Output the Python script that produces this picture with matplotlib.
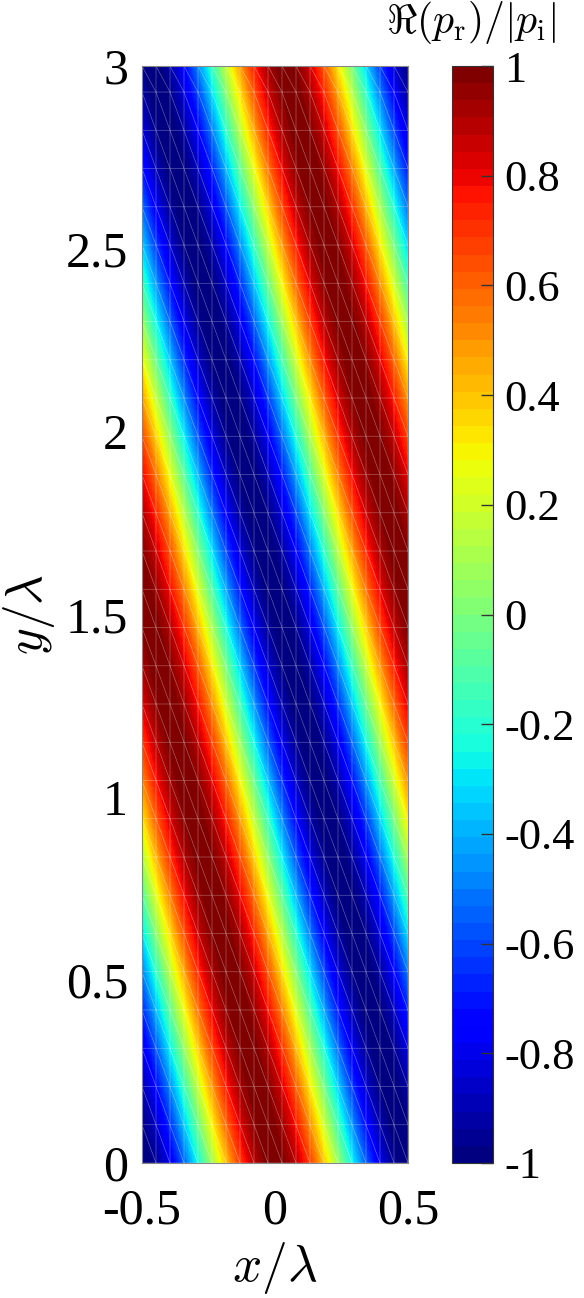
import numpy as np
import matplotlib
matplotlib.use("Agg")
import matplotlib.pyplot as plt
import matplotlib.tri as mtri
from matplotlib.colors import ListedColormap

# ---- data ----
x_range = [-0.5, 0.5]
y_range = [0.0, 3.0]
period_x = 1.0            # stripe period along x (in lambda)
ridge_x_at_y0 = 0.0       # x position of maximum at y = 0
ridge_shift_per_y = -0.32 # ridge moves left by this much per lambda in y
mesh_cols = 19
mesh_row_step = 0.1046
x_ticks = [-0.5, 0, 0.5]
x_ticklabels = ["-0.5", "0", "0.5"]
y_ticks = [0, 0.5, 1, 1.5, 2, 2.5, 3]
y_ticklabels = ["0", "0.5", "1", "1.5", "2", "2.5", "3"]
c_ticks = [-1, -0.8, -0.6, -0.4, -0.2, 0, 0.2, 0.4, 0.6, 0.8, 1]
c_ticklabels = ["-1", "-0.8", "-0.6", "-0.4", "-0.2", "0", "0.2", "0.4", "0.6", "0.8", "1"]

plt.rcParams["font.family"] = ["Liberation Serif", "DejaVu Serif"]
plt.rcParams["mathtext.fontset"] = "cm"

fig = plt.figure(figsize=(5.84, 12.98), dpi=100)
ax = fig.add_axes([142/584, 1 - 1163/1298, 266/584, 1097/1298])
cax = fig.add_axes([452/584, 1 - 1163/1298, 41/584, 1097/1298])

cmap = ListedColormap(plt.get_cmap("jet")(np.linspace(0, 1, 64)))

xs = np.linspace(x_range[0], x_range[1], 400)
ys = np.linspace(y_range[0], y_range[1], 1200)
X, Y = np.meshgrid(xs, ys)
F = np.cos(2 * np.pi * (X - ridge_x_at_y0 - ridge_shift_per_y * Y) / period_x)
pm = ax.pcolormesh(X, Y, F, cmap=cmap, vmin=-1, vmax=1, shading="auto", rasterized=True)

# finite-element mesh overlay
mx = np.linspace(x_range[0], x_range[1], mesh_cols + 1)
my = np.append(np.arange(y_range[0], y_range[1] - 0.02, mesh_row_step), y_range[1])
MX, MY = np.meshgrid(mx, my)
tris = []
nc = len(mx)
for j in range(len(my) - 1):
    for i in range(mesh_cols):
        a = j * nc + i
        b = a + 1
        c = a + nc
        d = c + 1
        tris.append([c, b, a])
        tris.append([c, d, b])
tri = mtri.Triangulation(MX.ravel(), MY.ravel(), np.array(tris))
ax.triplot(tri, color="white", lw=0.5, alpha=0.35)

ax.set_xlim(x_range)
ax.set_ylim(y_range)
ax.set_xticks(x_ticks)
ax.set_xticklabels(x_ticklabels)
ax.set_yticks(y_ticks)
ax.set_yticklabels(y_ticklabels)
ax.tick_params(direction="in", labelsize=36, length=0)
ax.tick_params(axis="x", pad=18)
ax.tick_params(axis="y", pad=10)
for s in ax.spines.values():
    s.set_color("#888888")
    s.set_linewidth(0.8)
ax.set_xlabel(r"$x/\lambda$", fontsize=37, labelpad=4)
ax.set_ylabel(r"$y/\lambda$", fontsize=37, labelpad=6)

cb = fig.colorbar(pm, cax=cax)
cb.set_ticks(c_ticks)
cb.set_ticklabels(c_ticklabels)
cax.tick_params(direction="in", labelsize=32, length=9, width=1, pad=8, color="#333333")
cb.outline.set_edgecolor("#333333")
cb.outline.set_linewidth(0.8)
fig.text(471/584, 1 - 22/1298, r"$\Re(p_\mathrm{r})/|p_\mathrm{i}|$", fontsize=30,
         ha="center", va="center")

fig.savefig("out.png", dpi=100)
